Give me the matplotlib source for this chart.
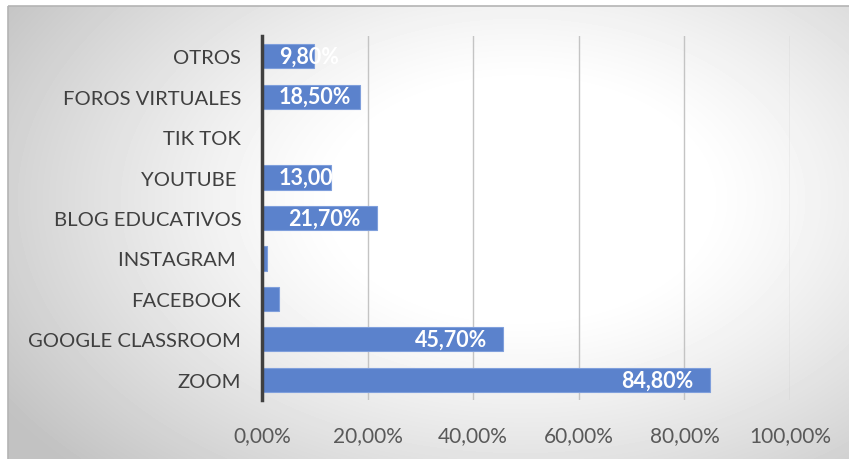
import numpy as np
import matplotlib.pyplot as plt
from matplotlib.patches import Rectangle

plt.rcParams['font.family'] = ['Lato', 'DejaVu Sans']

categories = ['ZOOM', 'GOOGLE CLASSROOM', 'FACEBOOK', 'INSTAGRAM ', 'BLOG EDUCATIVOS',
              'YOUTUBE ', 'TIK TOK', 'FOROS VIRTUALES', 'OTROS']
values = [0.848, 0.457, 0.032, 0.009, 0.217, 0.130, 0.0, 0.185, 0.098]
labels = ['84,80%', '45,70%', '', '', '21,70%', '13,00%', '', '18,50%', '9,80%']
ticks = [0, 0.2, 0.4, 0.6, 0.8, 1.0]
tick_labels = ['0,00%', '20,00%', '40,00%', '60,00%', '80,00%', '100,00%']

W, H = 849, 460
fig = plt.figure(figsize=(W / 100, H / 100), dpi=100)

# background radial gradient, framed like an Excel chart area
bg = fig.add_axes([0, 0, 1, 1], zorder=-10)
yy, xx = np.mgrid[0:H, 0:W]
d = np.sqrt(((xx - 520) / 520.0) ** 2 + ((yy - 200) / 330.0) ** 2)
shade = 1.0 - 0.3 * np.clip(d - 0.35, 0, None) ** 1.2
shade = np.clip(shade, 0.76, 1.0)
shade[:7, :] = 1.0
shade[:, :8] = 1.0
bg.imshow(shade, cmap='gray', vmin=0, vmax=1, aspect='auto', extent=[0, W, H, 0])
bg.add_patch(Rectangle((8, 7), W, H, fill=False, edgecolor='#b4b4b4', lw=1.2))
bg.set_xlim(0, W)
bg.set_ylim(H, 0)
bg.axis('off')

left, right, top, bottom = 262, 790, 37, 401
ax = fig.add_axes([left / W, 1 - bottom / H, (right - left) / W, (bottom - top) / H])
ax.patch.set_alpha(0)

y = np.arange(len(categories))
ax.barh(y, values, height=0.6, color='#5b82cc', edgecolor='#7f9fdc', lw=0.8, zorder=3)
ax.set_xlim(0, 1.0)
ax.set_ylim(-0.5, len(categories) - 0.5)

ax.set_xticks(ticks)
ax.set_xticklabels(tick_labels, fontsize=15, color='#595959')
ax.set_yticks(y)
ax.set_yticklabels(categories, fontsize=14.6, color='#404040')
ax.tick_params(axis='both', length=0)
ax.tick_params(axis='x', pad=18)
ax.tick_params(axis='y', pad=15)
ax.grid(axis='x', color='#c4c4c4', lw=1.0, zorder=0)
for s in ['top', 'right', 'bottom']:
    ax.spines[s].set_visible(False)
ax.spines['left'].set_color('#404040')
ax.spines['left'].set_linewidth(2.5)
ax.spines['left'].set_zorder(5)

px = 1.0 / (right - left)
fig.canvas.draw()
renderer = fig.canvas.get_renderer()
for yi, v, lab in zip(y, values, labels):
    if not lab:
        continue
    t = ax.text(v - 16 * px, yi, lab, ha='right', va='center', color='white',
                fontsize=15.5, fontweight='bold', zorder=4)
    bb = t.get_window_extent(renderer)
    x0 = ax.transData.inverted().transform((bb.x0, bb.y0))[0]
    if x0 < 17 * px:
        t.set_x(17 * px)
        t.set_ha('left')

fig.savefig('out.png', dpi=100)
